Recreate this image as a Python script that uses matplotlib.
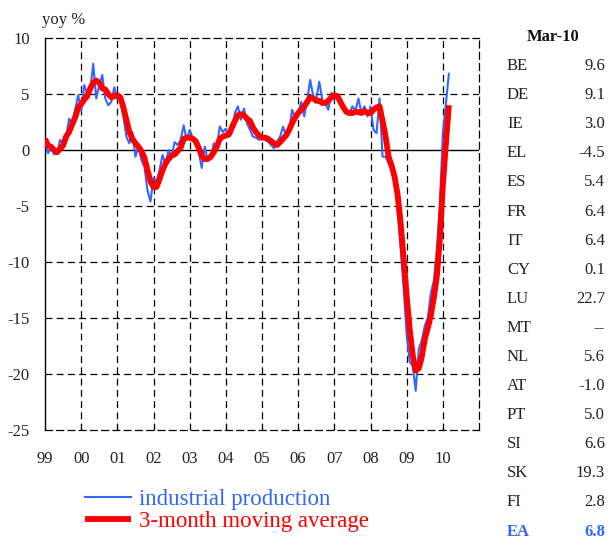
import matplotlib
matplotlib.use("Agg")
import matplotlib.pyplot as plt
import numpy as np

plt.rcParams['font.family'] = ['Liberation Serif', 'DejaVu Serif']
plt.rcParams['axes.unicode_minus'] = False

# euro area industrial production, yoy %, monthly Jan 1999 - Mar 2010
ip = [0.9, -0.3, 0.3, -0.4, -0.3, 0.9, 0.5, 1.2, 2.8, 2.3, 3.6, 4.9,
      3.5, 5.8, 5.0, 5.3, 7.7, 4.6, 5.8, 6.7, 4.6, 4.0, 4.3, 5.6,
      4.5, 4.6, 3.0, 1.2, 0.6, 1.6, -0.6, 0.3, -0.9, -1.5, -3.6, -4.6,
      -2.5, -2.8, -1.8, -0.45, -1.3, 0.0, -0.6, 0.7, 0.45, 0.9, 2.2, 0.9,
      1.8, 1.1, 0.45, -0.15, -1.6, 0.3, -0.9, -0.7, 0.6, 0.3, 2.1, 1.6,
      1.9, 1.2, 1.5, 3.3, 3.9, 2.7, 3.7, 2.4, 1.8, 1.2, 1.1, 0.9,
      1.2, 0.9, 0.75, 0.45, 0.15, 0.75, 1.2, 2.1, 1.2, 1.8, 3.6, 2.8,
      3.3, 4.3, 3.0, 4.5, 6.25, 4.8, 4.5, 6.1, 4.5, 4.2, 3.6, 5.1,
      4.5, 4.8, 4.5, 3.9, 3.3, 3.3, 3.9, 3.5, 4.6, 3.3, 3.9, 3.0,
      3.9, 1.8, 1.5, 4.6, -0.6, -0.6, -1.2, -1.5, -2.5, -5.5, -8.7, -12.4,
      -16.5, -18.9, -19.3, -21.5, -17.8, -17.0, -15.7, -15.0, -12.8, -11.7, -9.0, -5.0,
      1.5, 4.1, 6.8]

ma3 = [1.0, 0.4, 0.3, 0.0, -0.2, 0.1, 0.4, 1.2, 1.6, 2.3, 2.9, 3.8,
       4.1, 4.5, 4.8, 5.5, 6.0, 6.2, 6.0, 5.5, 5.4, 5.0, 4.7, 4.8,
       4.9, 4.7, 3.8, 2.7, 1.6, 1.0, 0.6, 0.3, -0.1, -0.7, -1.8, -2.8,
       -3.3, -3.3, -2.6, -1.8, -1.2, -0.8, -0.5, -0.4, -0.1, 0.2, 1.0, 1.1,
       1.1, 1.0, 0.8, 0.2, -0.5, -0.8, -0.8, -0.6, -0.2, 0.3, 1.0, 1.2,
       1.3, 1.4, 2.0, 2.6, 3.1, 3.2, 3.1, 2.8, 2.6, 2.0, 1.6, 1.3,
       1.1, 1.1, 1.0, 0.8, 0.6, 0.45, 0.7, 1.0, 1.3, 1.8, 2.4, 2.9,
       3.3, 3.6, 3.9, 4.3, 4.7, 4.6, 4.4, 4.4, 4.2, 4.2, 4.4, 4.7,
       4.9, 4.8, 4.3, 3.8, 3.4, 3.3, 3.3, 3.4, 3.4, 3.3, 3.5, 3.3,
       3.3, 3.6, 3.8, 3.9, 2.6, 1.2, -0.6, -1.4, -2.4, -4.0, -6.5, -9.8,
       -13.0, -16.0, -18.3, -19.7, -19.5, -18.5, -16.9, -15.9, -14.8, -13.2, -11.3, -8.0,
       -3.2, 0.5, 4.0]

years = ['99', '00', '01', '02', '03', '04', '05', '06', '07', '08', '09', '10']

countries = ['BE', 'DE', 'IE', 'EL', 'ES', 'FR', 'IT', 'CY', 'LU',
             'MT', 'NL', 'AT', 'PT', 'SI', 'SK', 'FI', 'EA']
latest = ['9.6', '9.1', '3.0', '-4.5', '5.4', '6.4', '6.4', '0.1', '22.7',
          '--', '5.6', '-1.0', '5.0', '6.6', '19.3', '2.8', '6.8']

blue = '#3366ff'
red = '#ff0000'
W, H = 608, 545

fig = plt.figure(figsize=(W / 100, H / 100), dpi=100)
ax = fig.add_axes([45 / W, 1 - 430 / H, 434 / W, 392 / H])

t = np.arange(len(ip)) / 12.0
ax.plot(t, ip, color=blue, lw=1.5, label='industrial production', zorder=3)
ax.plot(t, ma3, color=red, lw=4.2, label='3-month moving average',
        solid_capstyle='butt', zorder=4)

ax.set_xlim(0, 12)
ax.set_ylim(-25, 10)
ax.set_yticks(range(-25, 11, 5))
ax.set_xticks(range(12))
ax.set_xticklabels(years)

dash = (0, (5.5, 3.5))
for v in range(-20, 10, 5):
    if v != 0:
        ax.axhline(v, color='k', lw=0.9, ls=dash, zorder=1)
for x in range(1, 12):
    ax.axvline(x, color='k', lw=0.9, ls=dash, zorder=1)
ax.axhline(0, color='k', lw=1.0, zorder=2)

for sp in ['top', 'right', 'bottom']:
    ax.spines[sp].set_linestyle(dash)
    ax.spines[sp].set_linewidth(0.9)
ax.spines['left'].set_linewidth(1.0)

ax.tick_params(axis='y', length=0, pad=11, labelsize=12, colors='#222222')
ax.tick_params(axis='x', direction='in', length=4, pad=15, labelsize=12,
               colors='k', labelcolor='#222222')

fig.text(42 / W, 1 - 20 / H, 'yoy %', fontsize=12, color='#222222',
         va='center', ha='left')

# legend below the plot
leg = fig.legend(loc='upper left', bbox_to_anchor=(76 / W, 1 - 480 / H),
                 frameon=False, fontsize=16.5, handlelength=2.0,
                 handletextpad=0.35, labelspacing=0.05, borderaxespad=0,
                 labelcolor='linecolor')

# country table on the right
fig.text(553 / W, 1 - 37 / H, 'Mar-10', fontsize=12, fontweight='bold',
         ha='center', va='center', color='#111111')
for i, (c, v) in enumerate(zip(countries, latest)):
    y = 1 - (66 + 29.1 * i) / H
    if c == 'EA':
        kw = dict(color=blue, fontweight='bold')
    else:
        kw = dict(color='#222222')
    fig.text(507 / W, y, c, fontsize=12, ha='left', va='center', **kw)
    fig.text(605 / W, y, v, fontsize=12, ha='right', va='center', **kw)

fig.savefig('out.png', dpi=100)
